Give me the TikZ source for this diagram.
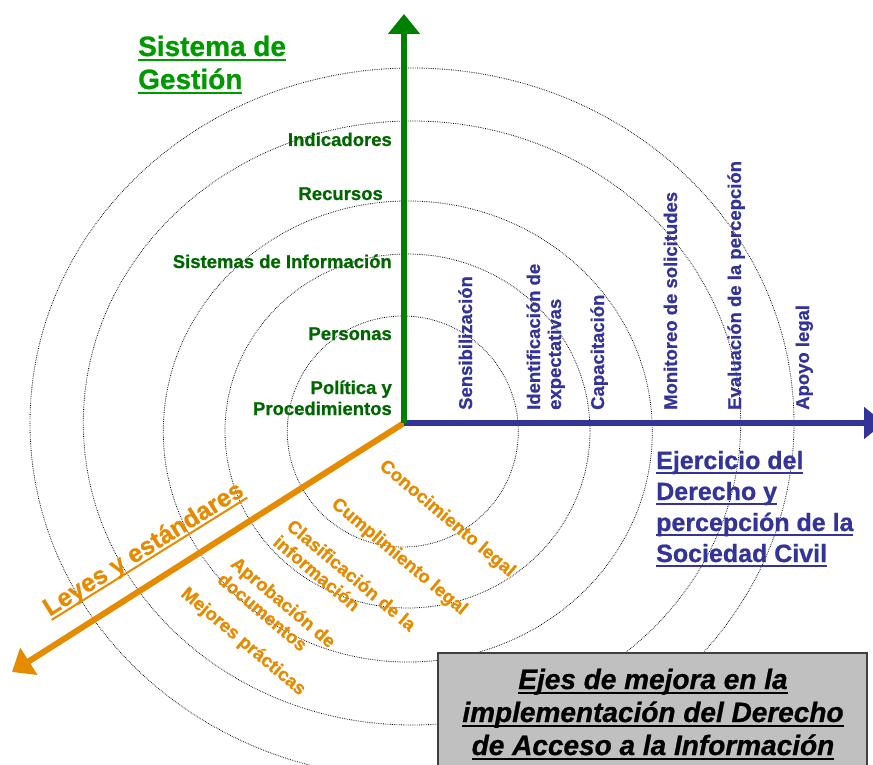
\documentclass[tikz,border=0pt]{standalone}
\usepackage{fontspec}
\setmainfont{Liberation Sans}[BoldFont={Liberation Sans Bold},
    ItalicFont={Liberation Sans Italic}, BoldItalicFont={Liberation Sans Bold Italic},
    BoldFeatures={FakeBold=0.8}, BoldItalicFeatures={FakeBold=0.8}]
\usetikzlibrary{arrows.meta}
\definecolor{verdeEje}{RGB}{0,128,0}
\definecolor{verdeTitulo}{RGB}{0,153,0}
\definecolor{verdeTexto}{RGB}{0,102,0}
\definecolor{azulEje}{RGB}{51,51,153}
\definecolor{naranjaEje}{RGB}{230,138,0}
\definecolor{grisCaja}{RGB}{192,192,192}
\newcommand{\letraEje}{\fontsize{18.5}{21}\selectfont\bfseries}
% subrayado grueso, un poco bajo la linea base
\newcommand{\subr}[1]{\leavevmode\setbox0\hbox{#1}%
    \rlap{\vrule height -0.11em depth 0.19em width \wd0}\box0}

\begin{document}
\begin{tikzpicture}[x=1pt, y=-1pt,
        anillo/.style={black, line width=0.8pt, dash pattern=on 0.7pt off 1.1pt},
        eje/.style={line width=6pt, -{Triangle[length=20pt, width=31pt]}},
        itemGestion/.style={anchor=base east, inner sep=0pt, align=right, text=verdeTexto, font=\letraEje},
        itemDerecho/.style={anchor=base west, rotate=90, inner sep=0pt, align=left, text=azulEje, font=\letraEje},
        itemLeyes/.style={rotate=-40, inner sep=0pt, align=left, text=naranjaEje, font=\letraEje}]
    \useasboundingbox (0,0) rectangle (873,765);
    % anillos punteados
    \draw[anillo] (402.8,431.5) ellipse [x radius=115.5, y radius=115.5];
    \draw[anillo] (407.5,431) ellipse [x radius=182.5, y radius=177];
    \draw[anillo] (407.8,431.5) ellipse [x radius=244.5, y radius=230.5];
    \draw[anillo] (412,423) ellipse [x radius=328.7, y radius=302];
    \draw[anillo] (412,423) ellipse [x radius=382, y radius=355];
    % ejes
    \coordinate (O) at (404,423);
    \coordinate (finGestion) at (404,14);
    \coordinate (finDerecho) at (884,423);
    \coordinate (finLeyes) at (12,672);
    \draw[eje, naranjaEje] (O) -- (finLeyes);
    \draw[eje, azulEje] (O) -- (finDerecho);
    \draw[eje, verdeEje] (O) -- (finGestion);
    % eje vertical (base = ultima linea)
    \node[anchor=base west, inner sep=0pt, align=left, text=verdeTitulo,
        font=\fontsize{28}{33}\selectfont\bfseries] (tituloGestion) at (138,89)
        {\subr{Sistema de}\\\subr{Gestión}};
    \node[itemGestion] (indicadores) at (392,146) {Indicadores};
    \node[itemGestion] (recursos) at (383,200) {Recursos};
    \node[itemGestion] (sistemas) at (392,268) {Sistemas de Información};
    \node[itemGestion] (personas) at (392,340) {Personas};
    \node[itemGestion] (politica) at (392,415) {Política y\\Procedimientos};
    % eje horizontal
    \node[itemDerecho] (sensibilizacion) at (472,410) {Sensibilización};
    \node[itemDerecho] (identificacion) at (561,410) {Identificación de\\expectativas};
    \node[itemDerecho] (capacitacion) at (604,410) {Capacitación};
    \node[itemDerecho] (monitoreo) at (677,410) {Monitoreo de solicitudes};
    \node[itemDerecho] (evaluacion) at (741,410) {Evaluación de la percepción};
    \node[itemDerecho] (apoyo) at (809,410) {Apoyo legal};
    \node[anchor=base west, inner sep=0pt, align=left, text=azulEje,
        font=\fontsize{25}{31}\selectfont\bfseries] (tituloDerecho) at (656,562)
        {\subr{Ejercicio del}\\\subr{Derecho y}\\\subr{percepción de la}\\\subr{Sociedad Civil}};
    % eje diagonal
    \node[itemLeyes] (conocimiento) at (447,519) {Conocimiento legal};
    \node[itemLeyes] (cumplimiento) at (399,557) {Cumplimiento legal};
    \node[itemLeyes] (clasificacion) at (345,583) {Clasificación de la\\información};
    \node[itemLeyes] (aprobacion) at (277,610) {Aprobación de\\documentos};
    \node[itemLeyes] (mejores) at (243,642) {Mejores prácticas};
    \node[rotate=32, inner sep=0pt, text=naranjaEje,
        font=\fontsize{25}{30}\selectfont\bfseries] (tituloLeyes) at (144,550)
        {\subr{Leyes y estándares}};
    % recuadro
    \draw[line width=2pt, draw=black!75, fill=grisCaja] (438,653) rectangle (867,800);
    \node[anchor=base, inner sep=0pt, align=center,
        font=\fontsize{28}{33}\selectfont\bfseries\itshape] (ejes) at (653,755)
        {\subr{Ejes de mejora en la}\\\subr{implementación del Derecho}\\\subr{de Acceso a la Información}};
\end{tikzpicture}
\end{document}
